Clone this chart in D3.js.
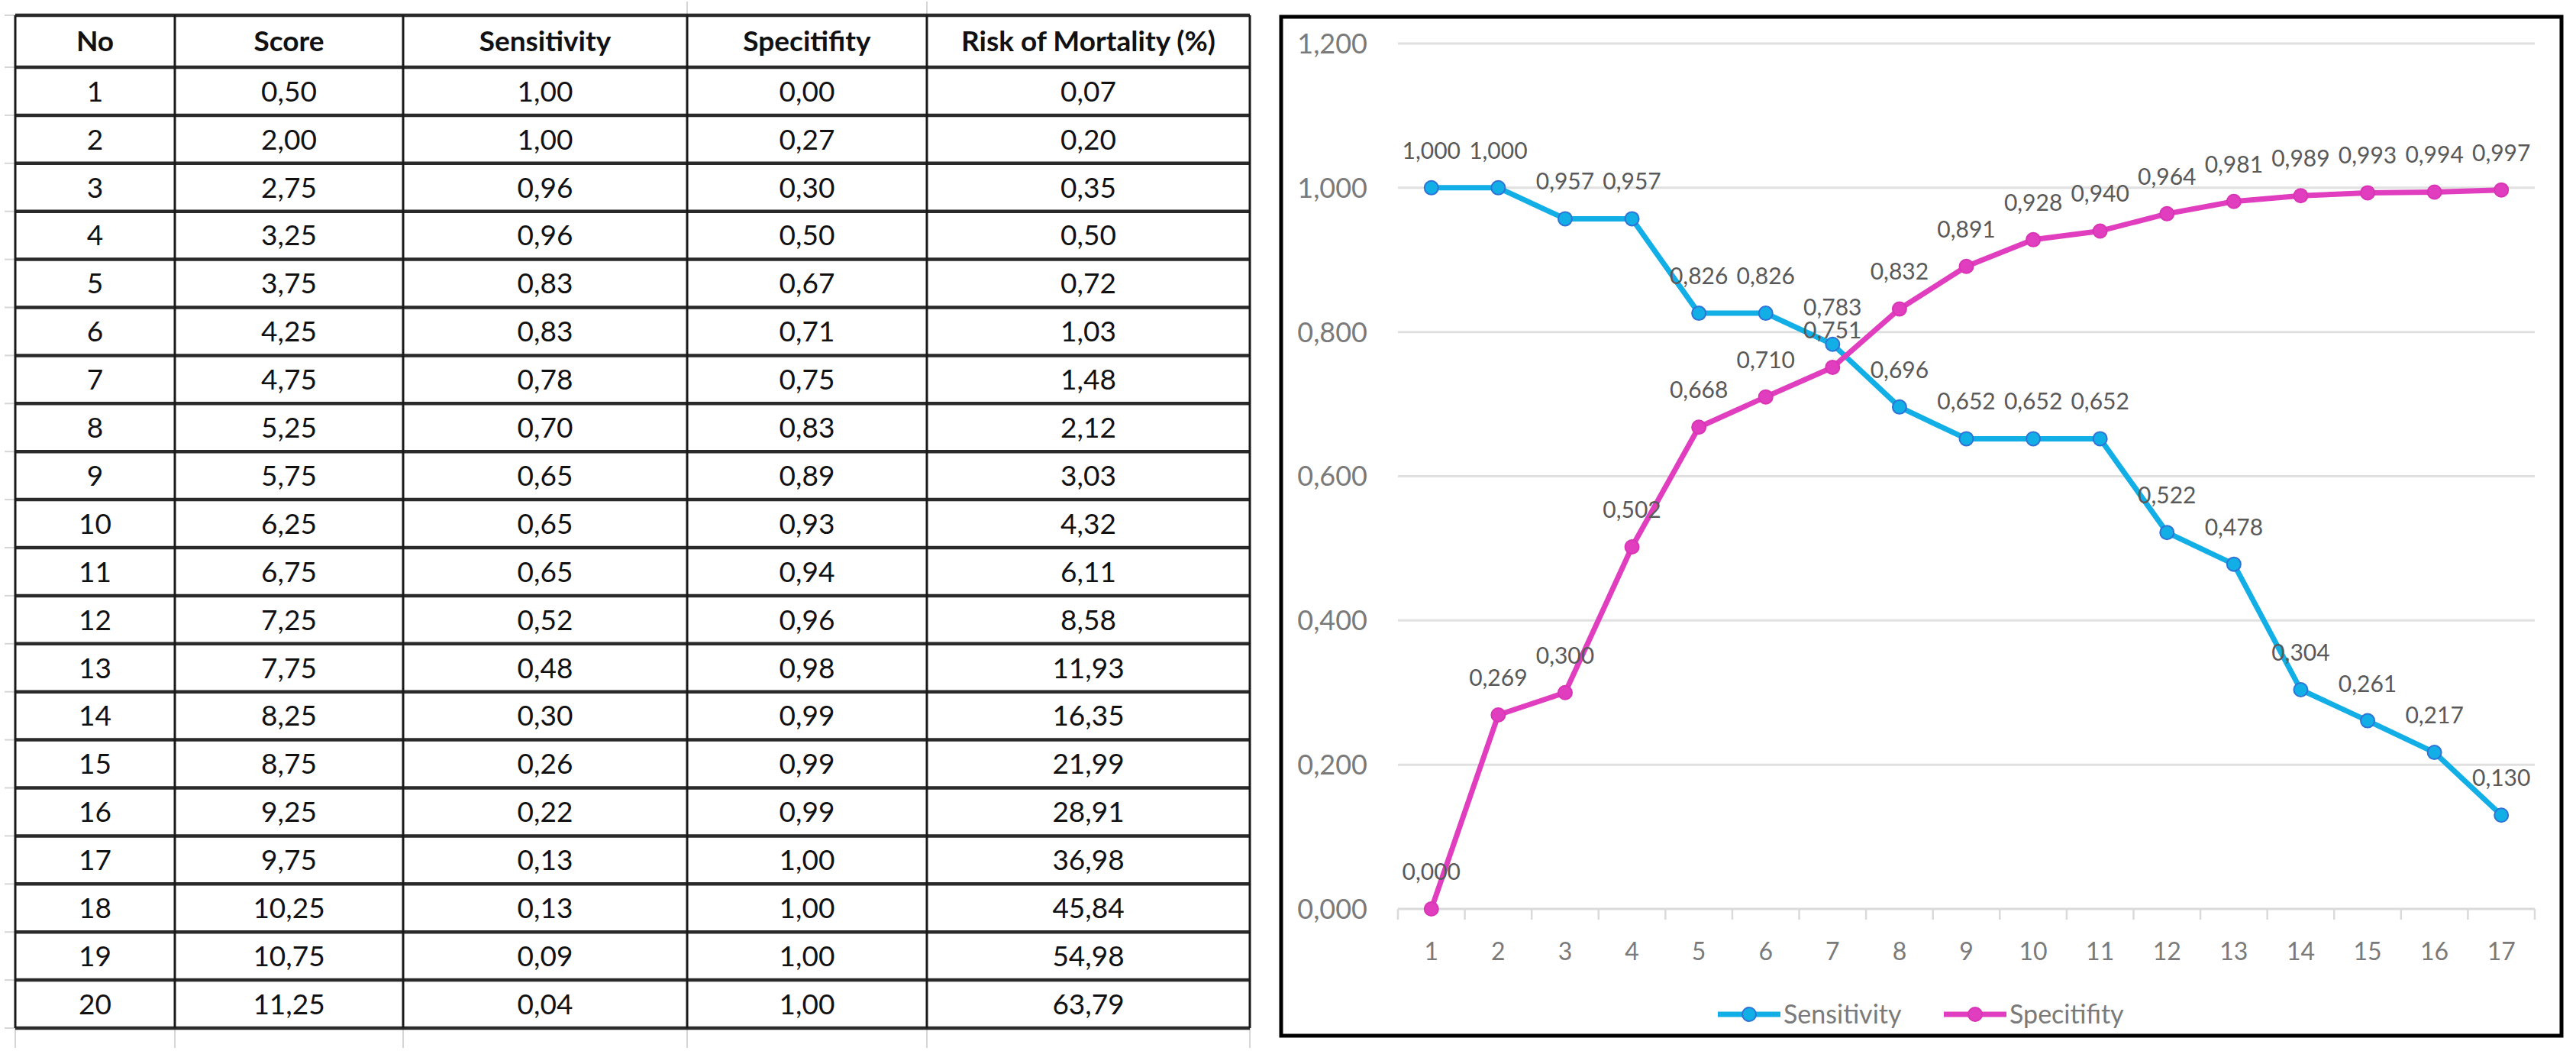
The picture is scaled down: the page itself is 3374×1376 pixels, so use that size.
<!DOCTYPE html>
<html>
<head>
<meta charset="utf-8">
<script src="https://cdn.jsdelivr.net/npm/d3@7"></script>
<style>
  html, body { margin: 0; padding: 0; background: #fff; }
  svg { display: block; }
</style>
</head>
<body>
<svg id="chart" width="3374" height="1376"></svg>
<script>
// ---------------- DATA ----------------
const tableHeaders = ["No", "Score", "Sensitivity", "Specitifity", "Risk of Mortality (%)"];
const rowNo = [1,2,3,4,5,6,7,8,9,10,11,12,13,14,15,16,17,18,19,20];
const scoreVals = [0.50,2.00,2.75,3.25,3.75,4.25,4.75,5.25,5.75,6.25,6.75,7.25,7.75,8.25,8.75,9.25,9.75,10.25,10.75,11.25];
const sensTable = [1.00,1.00,0.96,0.96,0.83,0.83,0.78,0.70,0.65,0.65,0.65,0.52,0.48,0.30,0.26,0.22,0.13,0.13,0.09,0.04];
const specTable = [0.00,0.27,0.30,0.50,0.67,0.71,0.75,0.83,0.89,0.93,0.94,0.96,0.98,0.99,0.99,0.99,1.00,1.00,1.00,1.00];
const riskVals = [0.07,0.20,0.35,0.50,0.72,1.03,1.48,2.12,3.03,4.32,6.11,8.58,11.93,16.35,21.99,28.91,36.98,45.84,54.98,63.79];

const chartCategories = [1,2,3,4,5,6,7,8,9,10,11,12,13,14,15,16,17];
const sensitivitySeries = [1.000,1.000,0.957,0.957,0.826,0.826,0.783,0.696,0.652,0.652,0.652,0.522,0.478,0.304,0.261,0.217,0.130];
const specificitySeries = [0.000,0.269,0.300,0.502,0.668,0.710,0.751,0.832,0.891,0.928,0.940,0.964,0.981,0.989,0.993,0.994,0.997];
const yTickValues = [0, 0.2, 0.4, 0.6, 0.8, 1.0, 1.2];
const seriesNames = ["Sensitivity", "Specitifity"];

// ---------------- HELPERS ----------------
const comma = (fmt) => (v) => d3.format(fmt)(v).replace(".", ",");
const fmt2 = comma(".2f");
const fmt3 = comma(".3f");

const svg = d3.select("#chart");
svg.append("rect").attr("width", 3374).attr("height", 1376).attr("fill", "#fff");

// ---------------- TABLE ----------------
const colEdges = [20, 229, 528, 900, 1214, 1637];
const tableTop = 20, headerBottom = 88, tableBottom = 1346;
const rowY = d3.scaleBand().domain(rowNo).range([headerBottom, tableBottom]);
const tableFont = "Lato, Calibri, 'Open Sans', sans-serif";

const tbl = svg.append("g").attr("class", "table");

// faint spreadsheet gridline remnants
const faint = tbl.append("g").attr("stroke", "#d6d6d6").attr("stroke-width", 2);
[headerBottom, ...rowNo.map(r => rowY(r) + rowY.bandwidth())].concat([tableTop]).forEach(y => {
  faint.append("line").attr("x1", 6).attr("x2", colEdges[0]).attr("y1", y).attr("y2", y);
});
colEdges.forEach(x => {
  faint.append("line").attr("x1", x).attr("x2", x).attr("y1", tableBottom).attr("y2", 1372);
});
[colEdges[3], colEdges[4]].forEach(x => {
  faint.append("line").attr("x1", x).attr("x2", x).attr("y1", 2).attr("y2", tableTop);
});

// header text
tableHeaders.forEach((h, i) => {
  tbl.append("text")
    .attr("x", (colEdges[i] + colEdges[i + 1]) / 2)
    .attr("y", (tableTop + headerBottom) / 2)
    .attr("dy", "0.36em")
    .attr("text-anchor", "middle")
    .attr("font-family", tableFont)
    .attr("font-weight", "bold")
    .attr("font-size", 37)
    .attr("fill", "#111")
    .text(h);
});

// body text
const columns = [
  rowNo.map(String),
  scoreVals.map(fmt2),
  sensTable.map(fmt2),
  specTable.map(fmt2),
  riskVals.map(fmt2)
];
columns.forEach((col, ci) => {
  tbl.append("g").selectAll("text").data(col).join("text")
    .attr("x", (colEdges[ci] + colEdges[ci + 1]) / 2)
    .attr("y", (d, i) => rowY(rowNo[i]) + rowY.bandwidth() / 2)
    .attr("dy", "0.36em")
    .attr("text-anchor", "middle")
    .attr("font-family", tableFont)
    .attr("font-size", 37)
    .attr("fill", "#111")
    .text(d => d);
});

// borders
const hLines = [tableTop, headerBottom, ...rowNo.map(r => rowY(r) + rowY.bandwidth())];
tbl.append("g").selectAll("line").data(hLines).join("line")
  .attr("x1", colEdges[0]).attr("x2", colEdges[colEdges.length - 1])
  .attr("y1", d => d).attr("y2", d => d)
  .attr("stroke", "#2a2a2a").attr("stroke-width", 4.5);
tbl.append("g").selectAll("line").data(colEdges).join("line")
  .attr("x1", d => d).attr("x2", d => d)
  .attr("y1", tableTop).attr("y2", tableBottom)
  .attr("stroke", "#1a1a1a").attr("stroke-width", 3);

// ---------------- CHART ----------------
const frame = { x: 1678, y: 22, w: 3355 - 1678, h: 1356 - 22 };
svg.append("rect")
  .attr("x", frame.x).attr("y", frame.y).attr("width", frame.w).attr("height", frame.h)
  .attr("fill", "#fff").attr("stroke", "#000").attr("stroke-width", 5);

const x = d3.scaleBand().domain(chartCategories).range([1831, 3320]);
const y = d3.scaleLinear().domain([0, 1.2]).range([1190, 57]);
const cx = d => x(d) + x.bandwidth() / 2;
const chartFont = "Lato, Calibri, 'Open Sans', sans-serif";

const g = svg.append("g").attr("class", "plot");

// gridlines
g.append("g").selectAll("line").data(yTickValues.filter(v => v > 0)).join("line")
  .attr("x1", x.range()[0]).attr("x2", x.range()[1])
  .attr("y1", d => y(d)).attr("y2", d => y(d))
  .attr("stroke", "#e0e0e0").attr("stroke-width", 3);

// x axis line and ticks (between categories)
g.append("line")
  .attr("x1", x.range()[0]).attr("x2", x.range()[1])
  .attr("y1", y(0)).attr("y2", y(0))
  .attr("stroke", "#dadada").attr("stroke-width", 3);
const tickXs = chartCategories.map(d => x(d)).concat([x.range()[1]]);
g.append("g").selectAll("line").data(tickXs).join("line")
  .attr("x1", d => d).attr("x2", d => d)
  .attr("y1", y(0)).attr("y2", y(0) + 14)
  .attr("stroke", "#dadada").attr("stroke-width", 2.5);

// x labels
g.append("g").selectAll("text").data(chartCategories).join("text")
  .attr("x", d => cx(d)).attr("y", 1245).attr("dy", "0.36em")
  .attr("text-anchor", "middle")
  .attr("font-family", chartFont).attr("font-size", 32)
  .attr("fill", "#7a7a7a")
  .text(d => d);

// y labels
g.append("g").selectAll("text").data(yTickValues).join("text")
  .attr("x", 1791).attr("y", d => y(d)).attr("dy", "0.36em")
  .attr("text-anchor", "end")
  .attr("font-family", chartFont).attr("font-size", 36)
  .attr("fill", "#7a7a7a")
  .text(d => fmt3(d));

const series = [
  { name: seriesNames[0], values: sensitivitySeries, color: "#12AEE6", markerStroke: "#2F73D6" },
  { name: seriesNames[1], values: specificitySeries, color: "#E03EBE", markerStroke: "#D934B5" }
];

const line = d3.line().x((d, i) => cx(chartCategories[i])).y(d => y(d));

series.forEach(s => {
  g.append("path").datum(s.values)
    .attr("d", line)
    .attr("fill", "none")
    .attr("stroke", s.color).attr("stroke-width", 7)
    .attr("stroke-linejoin", "round");
  g.append("g").selectAll("circle").data(s.values).join("circle")
    .attr("cx", (d, i) => cx(chartCategories[i])).attr("cy", d => y(d))
    .attr("r", 9)
    .attr("fill", s.color)
    .attr("stroke", s.markerStroke).attr("stroke-width", 2);
});

// data labels (above points)
series.forEach(s => {
  g.append("g").selectAll("text").data(s.values).join("text")
    .attr("x", (d, i) => cx(chartCategories[i]))
    .attr("y", d => y(d) - 38)
    .attr("text-anchor", "middle")
    .attr("font-family", chartFont).attr("font-size", 30)
    .attr("fill", "#595959")
    .text(d => fmt3(d));
});

// legend
const legendItems = [
  { s: series[0], x0: 2250 },
  { s: series[1], x0: 2546 }
];
const legY = 1328;
legendItems.forEach(it => {
  const lg = g.append("g");
  lg.append("line")
    .attr("x1", it.x0).attr("x2", it.x0 + 82)
    .attr("y1", legY).attr("y2", legY)
    .attr("stroke", it.s.color).attr("stroke-width", 7);
  lg.append("circle")
    .attr("cx", it.x0 + 41).attr("cy", legY).attr("r", 9)
    .attr("fill", it.s.color).attr("stroke", it.s.markerStroke).attr("stroke-width", 2);
  lg.append("text")
    .attr("x", it.x0 + 86).attr("y", legY).attr("dy", "0.36em")
    .attr("font-family", chartFont).attr("font-size", 34)
    .attr("fill", "#7a7a7a")
    .text(it.s.name);
});
</script>
</body>
</html>
